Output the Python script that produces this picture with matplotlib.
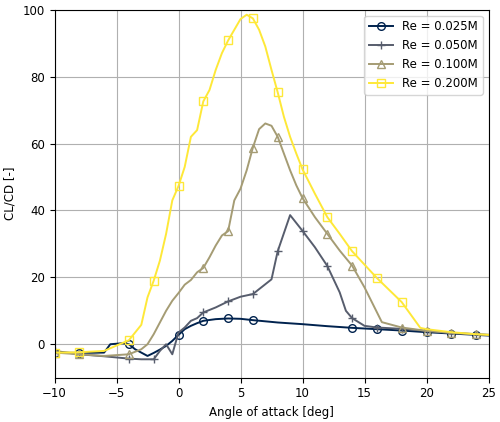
import numpy as np
import matplotlib
matplotlib.use("Agg")
import matplotlib.pyplot as plt

plt.rcParams["font.size"] = 8.5

labels = ["Re = 0.025M", "Re = 0.050M", "Re = 0.100M", "Re = 0.200M"]
markers = ["o", "+", "^", "s"]

a1 = [-10, -8, -6, -5.5, -4.5, -4, -3.5, -3, -2.5, -2, -1.5, -1, -0.5, 0, 0.5, 1, 1.5, 2, 3, 4, 5, 6, 8, 10, 12, 14, 16, 18, 20, 22, 24, 25]
v1 = [-2.5, -2.6, -2.5, 0, 0.3, 0, -1.5, -2.5, -3.5, -2.6, -1.6, -0.5, 1, 2.8, 4.5, 5.5, 6.3, 7.0, 7.5, 7.7, 7.6, 7.2, 6.5, 6.0, 5.4, 4.9, 4.5, 4.1, 3.6, 3.2, 2.8, 2.6]
m1 = [-10, -8, -4, 0, 2, 4, 6, 14, 16, 18, 20, 22, 24]

a2 = [-10, -8, -6, -4, -3, -2, -1.5, -1, -0.5, 0, 0.5, 1, 1.5, 2, 3, 4, 5, 6, 7.5, 8, 9, 10, 11, 12, 13, 13.5, 14, 15, 16, 18, 20, 22, 24, 25]
v2 = [-2.0, -3.0, -3.6, -4.3, -4.5, -4.5, -2.0, 0, -3.0, 3.5, 5.0, 7.0, 7.8, 9.5, 11.0, 12.8, 14.2, 15.0, 19.4, 27.8, 38.6, 33.9, 29.0, 23.4, 15.5, 10.0, 7.8, 5.5, 5.0, 4.6, 4.0, 3.4, 3.0, 2.8]
m2 = [-10, -8, -4, -2, 2, 4, 6, 8, 10, 12, 14, 16, 18, 20, 22, 24]

a3 = [-10, -8, -6, -4, -3, -2.5, -2, -1.5, -1, -0.5, 0, 0.5, 1, 1.5, 2, 2.5, 3, 3.5, 4, 4.5, 5, 5.5, 6, 6.5, 7, 7.5, 8, 8.5, 9, 9.5, 10, 11, 12, 13, 14, 15, 16.4, 18, 20, 22, 24, 25]
v3 = [-2.5, -3.0, -3.5, -3.0, -1.5, 0, 3.0, 6.5, 10.0, 13.0, 15.3, 17.8, 19.2, 21.5, 22.8, 26.0, 29.5, 32.5, 33.8, 43.0, 46.5, 52.0, 58.8, 64.3, 66.0, 65.3, 62.0, 57.0, 52.0, 47.5, 43.7, 38.0, 33.0, 28.0, 23.5, 17.0, 6.6, 5.0, 4.0, 3.4, 3.0, 2.8]
m3 = [-10, -8, -4, 2, 4, 6, 8, 10, 12, 14, 18, 20, 22, 24]

a4 = [-10, -8, -6, -4, -3, -2.5, -2, -1.5, -1, -0.5, 0, 0.5, 1, 1.5, 2, 2.5, 3, 3.5, 4, 4.5, 5, 5.5, 6, 6.5, 7, 7.5, 8, 8.5, 9, 9.5, 10, 11, 12, 13, 14, 16, 18, 19.5, 20, 22, 24, 25]
v4 = [-2.5, -2.4, -2.0, 1.2, 5.8, 14.0, 19.0, 25.0, 33.0, 43.0, 47.3, 53.0, 62.0, 64.0, 72.6, 76.0, 82.0, 87.0, 90.8, 94.0, 97.2, 98.5, 97.4, 94.0, 89.0, 82.0, 75.3, 68.0, 62.0, 57.0, 52.3, 45.0, 38.0, 33.0, 27.8, 19.8, 12.6, 4.9, 4.5, 3.6, 3.0, 2.8]
m4 = [-10, -8, -4, -2, 0, 2, 4, 6, 8, 10, 12, 14, 16, 18]

series = [(a1, v1, m1), (a2, v2, m2), (a3, v3, m3), (a4, v4, m4)]
cmap = plt.get_cmap("cividis")
colors = [cmap(i / 3) for i in range(4)]

fig = plt.figure(figsize=(5.0, 4.22), dpi=100)
ax = fig.add_axes([0.109, 0.105, 0.868, 0.872])
for (a, v, m), lab, mk, c in zip(series, labels, markers, colors):
    a = np.array(a)
    mask = np.isin(a, m)
    ax.plot(a, v, color=c, marker=mk, markevery=list(mask), markerfacecolor="none",
            markeredgecolor=c, markersize=5.5, linewidth=1.4, label=lab)

ax.set_xlim(-10, 25)
ax.set_ylim(-10, 100)
ax.set_xlabel("Angle of attack [deg]")
ax.set_ylabel("CL/CD [-]")
ax.grid(True)
ax.legend(loc="upper right")
fig.savefig("out.png", dpi=100)
